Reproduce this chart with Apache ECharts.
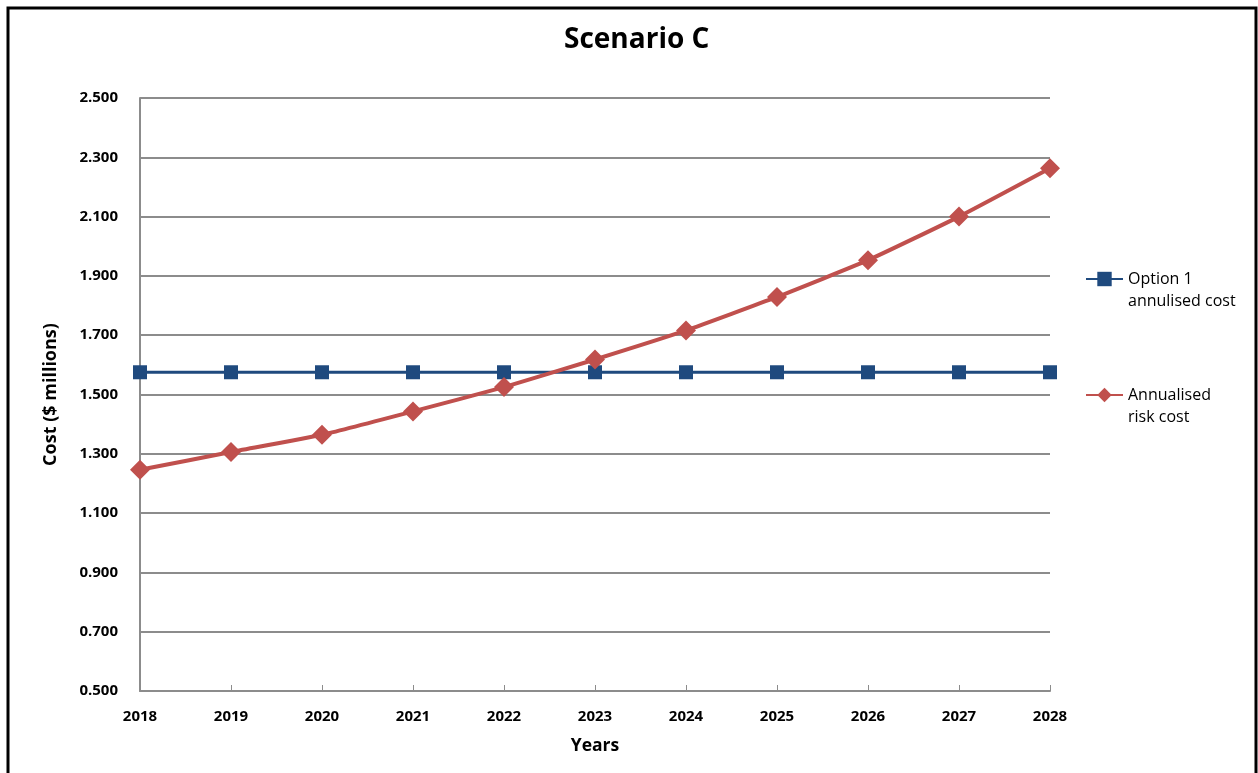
<!DOCTYPE html>
<html>
<head>
<meta charset="utf-8">
<title>Scenario C</title>
<script src="https://cdn.jsdelivr.net/npm/echarts@6/dist/echarts.min.js"></script>
<style>
  html, body { margin: 0; padding: 0; background: #ffffff; }
  #chart { width: 1258px; height: 773px; }
</style>
</head>
<body>
<div id="chart"></div>
<script>
// Years on the horizontal axis
const years = ['2018', '2019', '2020', '2021', '2022', '2023', '2024', '2025', '2026', '2027', '2028'];

// Option 1 annualised cost ($ millions), flat across the period
const option1Cost = [1.575, 1.575, 1.575, 1.575, 1.575, 1.575, 1.575, 1.575, 1.575, 1.575, 1.575];

// Annualised risk cost ($ millions)
const riskCost = [1.246, 1.306, 1.364, 1.443, 1.525, 1.618, 1.716, 1.829, 1.953, 2.100, 2.263];

// Series names as shown in the legend
const seriesNames = ['Option 1\nannulised cost', 'Annualised\nrisk cost'];

const FONT = '"Open Sans", "Noto Sans", sans-serif';

const chart = echarts.init(document.getElementById('chart'), null, { renderer: 'canvas' });

chart.setOption({
  backgroundColor: '#ffffff',
  animation: false,
  textStyle: { fontFamily: FONT },
  graphic: [
    {
      type: 'rect',
      shape: { x: 8, y: 8, width: 1248, height: 790 },
      style: { fill: 'none', stroke: '#000000', lineWidth: 3 },
      silent: true,
      z: 100
    }
  ],
  title: {
    text: 'Scenario C',
    left: 559,
    top: 21,
    textStyle: { fontFamily: FONT, fontSize: 28, fontWeight: 'bold', color: '#000000' }
  },
  legend: {
    orient: 'vertical',
    left: 1080,
    top: 241,
    padding: 5,
    itemWidth: 37,
    itemHeight: 18,
    itemGap: 50,
    data: seriesNames,
    // a leading blank line keeps the symbol level with the first text line
    formatter: function (name) { return '\n' + name; },
    textStyle: {
      fontFamily: FONT,
      fontSize: 16,
      color: '#000000',
      lineHeight: 22
    }
  },
  grid: { left: 140, right: 208, top: 98, bottom: 82, containLabel: false },
  xAxis: {
    type: 'category',
    data: years,
    boundaryGap: false,
    name: 'Years',
    nameLocation: 'middle',
    nameGap: 46,
    nameTextStyle: { fontFamily: FONT, fontSize: 17.5, fontWeight: 'bold', color: '#000000' },
    axisLine: { show: true, lineStyle: { color: '#8c8c8c', width: 2 } },
    axisTick: { show: true, inside: true, length: 6, alignWithLabel: true, lineStyle: { color: '#8c8c8c', width: 1 } },
    axisLabel: { fontFamily: FONT, fontSize: 15, fontWeight: 'bold', color: '#000000', margin: 18 },
    splitLine: { show: false }
  },
  yAxis: {
    type: 'value',
    min: 0.5,
    max: 2.5,
    interval: 0.2,
    name: 'Cost ($ millions)',
    nameLocation: 'middle',
    nameGap: 80,
    nameRotate: 90,
    nameTextStyle: { fontFamily: FONT, fontSize: 18, fontWeight: 'bold', color: '#000000' },
    axisLine: { show: true, lineStyle: { color: '#8c8c8c', width: 2 } },
    axisTick: { show: false },
    axisLabel: {
      fontFamily: FONT, fontSize: 15, fontWeight: 'bold', color: '#000000', margin: 22,
      formatter: function (v) { return v.toFixed(3); }
    },
    splitLine: { show: true, lineStyle: { color: '#8c8c8c', width: 2 } }
  },
  series: [
    {
      name: seriesNames[0],
      type: 'line',
      data: option1Cost,
      symbol: 'rect',
      symbolSize: 14,
      lineStyle: { color: '#1f4a7e', width: 3 },
      itemStyle: { color: '#1f4a7e' },
      z: 2
    },
    {
      name: seriesNames[1],
      type: 'line',
      data: riskCost,
      smooth: 0.15,
      symbol: 'diamond',
      symbolSize: 20,
      lineStyle: { color: '#c0504d', width: 4 },
      itemStyle: { color: '#c0504d' },
      z: 3
    }
  ]
});
</script>
</body>
</html>
